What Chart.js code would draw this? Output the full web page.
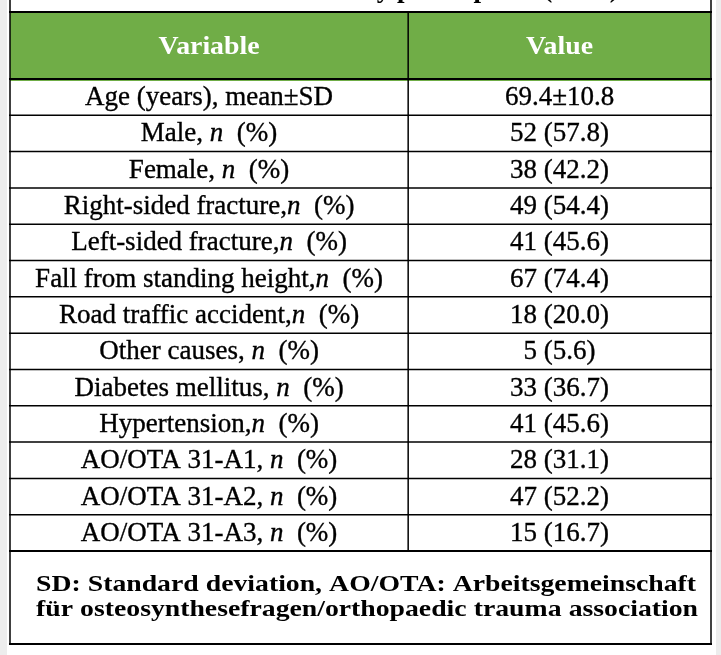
<!DOCTYPE html>
<html><head><meta charset="utf-8">
<script src="https://cdn.jsdelivr.net/npm/chart.js@4"></script>
<style>html,body{margin:0;padding:0;background:#fff;overflow:hidden}#wrap{width:721px;height:655px;position:relative}</style>
</head><body><div id="wrap"><canvas id="c" width="721" height="655" style="width:721px;height:655px"></canvas></div>
<script>
const title = "Table 1: Baseline characteristics of the study participants (n=90)";
const headers = ["Variable", "Value"];
const variables = [
  "Age (years), mean±SD",
  "Male, n (%)",
  "Female, n (%)",
  "Right-sided fracture,n (%)",
  "Left-sided fracture,n (%)",
  "Fall from standing height,n (%)",
  "Road traffic accident,n (%)",
  "Other causes, n (%)",
  "Diabetes mellitus, n (%)",
  "Hypertension,n (%)",
  "AO/OTA 31-A1, n (%)",
  "AO/OTA 31-A2, n (%)",
  "AO/OTA 31-A3, n (%)"
];
const values = [
  "69.4±10.8", "52 (57.8)", "38 (42.2)", "49 (54.4)", "41 (45.6)", "67 (74.4)",
  "18 (20.0)", "5 (5.6)", "33 (36.7)", "41 (45.6)", "28 (31.1)", "47 (52.2)", "15 (16.7)"
];
const footnote = [
  "SD: Standard deviation, AO/OTA: Arbeitsgemeinschaft",
  "für osteosynthesefragen/orthopaedic trauma association"
];

const FAMILY = '"Liberation Serif", "Times New Roman", serif';
const GREEN = '#70AD47';

function drawScaled(ctx, parts, cx, baseline, sx, heavy) {
  let w = 0;
  parts.forEach(p => { ctx.font = p.font; p.w = ctx.measureText(p.t).width; w += p.w; });
  ctx.save();
  ctx.translate(cx - w * sx / 2, baseline);
  ctx.scale(sx, 1);
  let x = 0;
  parts.forEach(p => {
    ctx.font = p.font;
    ctx.fillText(p.t, x, 0);
    if (heavy) { ctx.lineWidth = heavy; ctx.strokeStyle = ctx.fillStyle; ctx.strokeText(p.t, x, 0); }
    x += p.w;
  });
  ctx.restore();
}
function drawJustified(ctx, line, font, x1, x2, baseline, sx) {
  ctx.font = font;
  const words = line.split(' ');
  const ws = words.map(w => ctx.measureText(w).width * sx);
  const tot = ws.reduce((s, v) => s + v, 0);
  const gap = (x2 - x1 - tot) / Math.max(1, words.length - 1);
  let x = x1;
  words.forEach((w, i) => {
    ctx.save(); ctx.translate(x, baseline); ctx.scale(sx, 1); ctx.fillText(w, 0, 0); ctx.restore();
    x += ws[i] + gap;
  });
}
function richParts(str, size) {
  const reg = size + 'px ' + FAMILY;
  const ita = 'italic ' + size + 'px ' + FAMILY;
  const m = str.match(/^(.*?)n \(%\)$/);
  if (!m) return [{t: str, font: reg}];
  return [{t: m[1], font: reg}, {t: 'n', font: ita}, {t: '  (%)', font: reg}];
}
function hline(ctx, x1, x2, y, w) { ctx.lineWidth = w; ctx.beginPath(); ctx.moveTo(x1, y); ctx.lineTo(x2, y); ctx.stroke(); }
function vline(ctx, x, y1, y2, w) { ctx.lineWidth = w; ctx.beginPath(); ctx.moveTo(x, y1); ctx.lineTo(x, y2); ctx.stroke(); }

const tablePlugin = {
  id: 'tablePlugin',
  afterDraw(chart) {
    const ctx = chart.ctx;
    const a = chart.chartArea;
    const ys = chart.scales.y, xs = chart.scales.x;
    const L = xs.getPixelForValue(0), R = xs.getPixelForValue(1);
    const D = xs.getPixelForValue(0.568);
    const step = ys.getPixelForValue(1) - ys.getPixelForValue(0);
    const headTop = 12, footBottom = 644;
    ctx.save();
    ctx.fillStyle = '#ededed';
    ctx.fillRect(0, 0, 7, 655);
    ctx.fillRect(716, 0, 5, 655);
    // title (mostly cut off above the picture)
    ctx.fillStyle = '#000';
    ctx.textBaseline = 'alphabetic';
    ctx.font = 'bold 27px ' + FAMILY;
    const pre = title.slice(0, title.indexOf('participants'));
    const tx = 397 - ctx.measureText(pre).width;
    ctx.fillText(title, tx, -3);
    // header band
    ctx.fillStyle = GREEN;
    ctx.fillRect(L, headTop, R - L, a.top - headTop + 2);
    ctx.fillStyle = '#fff';
    drawScaled(ctx, [{t: headers[0], font: 'bold 26px ' + FAMILY}], (L + D) / 2, 54, 1.07);
    drawScaled(ctx, [{t: headers[1], font: 'bold 26px ' + FAMILY}], (D + R) / 2, 54, 1.07);
    // rows
    ctx.fillStyle = '#000';
    variables.forEach((v, i) => {
      const cy = ys.getPixelForValue(i);
      drawScaled(ctx, richParts(v, 27), (L + D) / 2, cy + 8, 1.0, 0.35);
      drawScaled(ctx, [{t: values[i], font: '27px ' + FAMILY}], (D + R) / 2, cy + 8, 1.0, 0.35);
    });
    // footnote
    drawJustified(ctx, footnote[0], 'bold 24px ' + FAMILY, 36, 696, 591, 1.155);
    drawJustified(ctx, footnote[1], 'bold 24px ' + FAMILY, 36, 698, 616, 1.155);
    // lines
    ctx.strokeStyle = '#000';
    hline(ctx, L - 1, R + 1, headTop, 2);
    hline(ctx, L - 1, R + 1, a.top, 2);
    for (let i = 0; i < variables.length; i++) {
      const yb = ys.getPixelForValue(i) + step / 2;
      hline(ctx, L - 1, R + 1, yb, i === variables.length - 1 ? 2 : 1.5);
    }
    hline(ctx, L - 1, R + 1, footBottom, 2);
    vline(ctx, L, 0, footBottom + 1, 1.5);
    vline(ctx, R, 0, footBottom + 1, 1.5);
    vline(ctx, D, headTop, a.bottom, 1.5);
    ctx.restore();
  }
};

new Chart(document.getElementById('c'), {
  type: 'bar',
  data: { labels: variables, datasets: [{ data: values.map(() => null) }] },
  options: {
    indexAxis: 'y',
    responsive: false,
    animation: false,
    events: [],
    layout: { padding: { left: 10, right: 10, top: 79, bottom: 104 } },
    plugins: { legend: { display: false }, tooltip: { enabled: false } },
    scales: {
      x: { type: 'linear', min: 0, max: 1, display: false },
      y: { type: 'category', labels: variables, offset: true, display: false }
    }
  },
  plugins: [tablePlugin]
});
</script></body></html>
